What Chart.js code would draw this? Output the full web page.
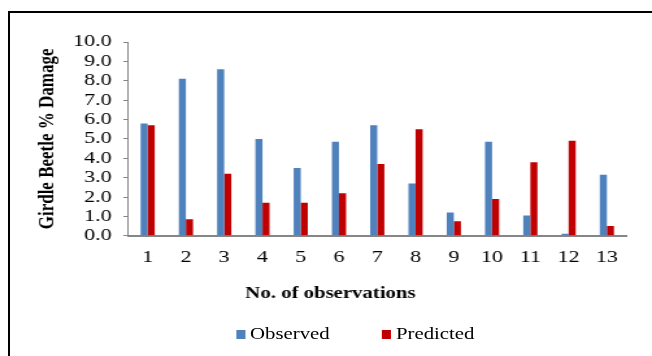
<!DOCTYPE html>
<html lang="en">
<head>
    <meta charset="UTF-8">
    <title>Girdle Beetle % Damage</title>
    <script src="https://cdn.jsdelivr.net/npm/chart.js"></script>
    <style>
        html, body { margin: 0; padding: 0; background: #fff; overflow: hidden; }
        /* black frame, only top and left edges show in the picture */
        .frame { position: absolute; left: 8px; top: 11px; width: 700px; height: 400px;
                 border-left: 2px solid #000; border-top: 2px solid #000; }
        /* the original is stretched sideways, so draw narrow and scale up */
        .stretch { position: absolute; left: 0; top: 0; width: 502px; height: 356px;
                   transform: scaleX(1.2988); transform-origin: 0 0; }
        .legend { position: absolute; top: 325px; left: 0; width: 502px; height: 18px;
                  font: 16px "Liberation Serif", "Times New Roman", serif; color: #000; line-height: 18px; }
        .legend span { position: absolute; }
        .legend .box { top: 5px; width: 7.5px; height: 9px; }
    </style>
</head>
<body>
    <div class="frame"></div>
    <div class="stretch">
        <canvas id="chart"></canvas>
        <div class="legend">
            <span class="box" style="left:181.7px; background:#4F81BD"></span>
            <span style="left:192.5px">Observed</span>
            <span class="box" style="left:293.9px; background:#C00000"></span>
            <span style="left:304.9px">Predicted</span>
        </div>
    </div>

    <script>
        // data
        const observations = ['1', '2', '3', '4', '5', '6', '7', '8', '9', '10', '11', '12', '13'];
        const observed = [5.8, 8.1, 8.6, 5.0, 3.5, 4.85, 5.7, 2.7, 1.2, 4.85, 1.05, 0.1, 3.15];
        const predicted = [5.7, 0.85, 3.2, 1.7, 1.7, 2.2, 3.7, 5.5, 0.75, 1.9, 3.8, 4.9, 0.5];
        const yTicks = [0, 1, 2, 3, 4, 5, 6, 7, 8, 9, 10];

        const serif = '"Liberation Serif", "Times New Roman", serif';
        const axisGray = '#868686';

        const ctx = document.getElementById('chart').getContext('2d');
        const chart = new Chart(ctx, {
            type: 'bar',
            data: {
                labels: observations,
                datasets: [{
                    label: 'Observed',
                    data: observed,
                    backgroundColor: '#4F81BD'
                }, {
                    label: 'Predicted',
                    data: predicted,
                    backgroundColor: '#C00000'
                }]
            },
            options: {
                responsive: true,
                maintainAspectRatio: false,
                animation: false,
                layout: { padding: { left: 26.8, right: 20, top: 42, bottom: 53 } },
                categoryPercentage: 0.37,
                barPercentage: 1.0,
                plugins: {
                    legend: { display: false },
                    tooltip: { enabled: false },
                    // x title sits centred on the whole figure, not on the plot
                    title: {
                        display: true,
                        position: 'bottom',
                        text: 'No. of observations',
                        color: '#000',
                        padding: { top: 11.6, bottom: 0 },
                        font: { family: serif, size: 16, weight: 'bold' }
                    }
                },
                scales: {
                    x: {
                        grid: { display: false },
                        border: { display: true, color: axisGray, width: 2 },
                        ticks: {
                            color: '#000', padding: 4, maxRotation: 0, minRotation: 0, autoSkip: false,
                            font: { family: serif, size: 17 }
                        }
                    },
                    y: {
                        min: 0,
                        max: 10,
                        afterBuildTicks: (axis) => { axis.ticks = yTicks.map(v => ({ value: v })); },
                        grid: { drawOnChartArea: false, drawTicks: true, tickLength: 4, color: axisGray },
                        border: { display: true, color: axisGray, width: 1 },
                        ticks: {
                            color: '#000',
                            padding: 9,
                            autoSkip: false,
                            font: { family: serif, size: 17 },
                            callback: (v) => Number(v).toFixed(1)
                        },
                        title: {
                            display: true,
                            text: 'Girdle Beetle % Damage',
                            color: '#000',
                            padding: { top: 0, bottom: 0 },
                            font: { family: serif, size: 17, weight: 'bold' }
                        }
                    }
                }
            }
        });
    </script>
</body>
</html>
